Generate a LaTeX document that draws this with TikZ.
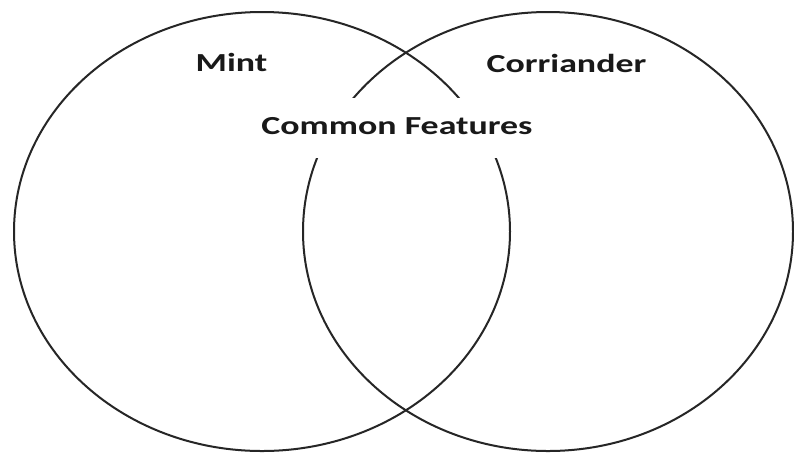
\documentclass[tikz,border=0pt]{standalone}
\usepackage{fontspec}
\setmainfont{Carlito}
\begin{document}
\begin{tikzpicture}[x=1pt,y=-1pt,
  ring/.style={draw=black!85,line width=2pt},
  lbl/.style={font=\fontsize{26}{30}\selectfont\bfseries,text=black!90,inner sep=0pt}]
\useasboundingbox (0,0) rectangle (794,456);
\fill[white] (0,0) rectangle (794,456);
\draw[ring] (262,231.5) ellipse [x radius=248pt, y radius=219.5pt];
\draw[ring] (548,231.5) ellipse [x radius=245pt, y radius=219.5pt];
\node[lbl,anchor=base] (mint) at (231.5,71) {\scalebox{1.38}[1]{Mint}};
\node[lbl,anchor=base] (cor) at (566.5,72) {\scalebox{1.38}[1]{Corriander}};
\node[lbl,fill=white,text height=17pt,text depth=5pt,inner xsep=4pt,inner ysep=19pt] (cf) at (397,128) {\scalebox{1.38}[1]{Common Features}};
\end{tikzpicture}
\end{document}
